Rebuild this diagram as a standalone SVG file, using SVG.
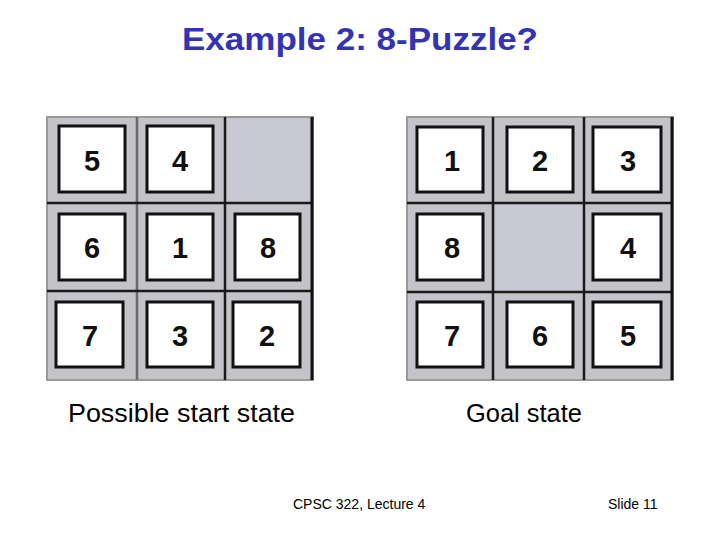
<svg xmlns="http://www.w3.org/2000/svg" width="720" height="540" viewBox="0 0 720 540">
<style>
.title{font-family:"Liberation Sans",Arial,sans-serif;font-weight:bold;font-size:32px;fill:#3333b3}
.frame{fill:#c3c3c8;stroke:#9a9a9a;stroke-width:2}
.empty{fill:#c9c9d3}
.edge{stroke:#111;stroke-width:3}
.line{stroke:#1a1a1a;stroke-width:2.5}
.tile rect{fill:#fff;stroke:#111;stroke-width:3}
.tile text{font-family:"Liberation Sans",Arial,sans-serif;font-weight:bold;font-size:29px;fill:#111;text-anchor:middle}
.label{font-family:"Liberation Sans",Arial,sans-serif;font-size:26px;fill:#000}
.foot{font-family:"Liberation Sans",Arial,sans-serif;font-size:14px;fill:#000}
</style>
<rect width="720" height="540" fill="#fff"/>
<text class="title" x="360" y="50" text-anchor="middle" textLength="356" lengthAdjust="spacingAndGlyphs">Example 2: 8-Puzzle?</text>

<g id="start-board">
  <rect class="frame" x="47" y="117" width="266" height="263"/>
  <rect class="empty" x="227" y="119" width="82" height="83"/>
  <line class="line" x1="137" y1="117" x2="137" y2="380" style="stroke:#6a6a6a"/>
  <line class="line" x1="225" y1="117" x2="225" y2="380"/>
  <line class="line" x1="47" y1="203" x2="313" y2="203"/>
  <line class="line" x1="47" y1="291" x2="313" y2="291"/>
  <line class="edge" x1="312" y1="117" x2="312" y2="380"/>
  <g id="s5" class="tile"><rect x="59" y="126" width="66" height="66"/><text x="92" y="171">5</text></g>
  <g id="s4" class="tile"><rect x="147" y="126" width="66" height="66"/><text x="180" y="171">4</text></g>
  <g id="s6" class="tile"><rect x="59" y="214" width="66" height="66"/><text x="92" y="258">6</text></g>
  <g id="s1" class="tile"><rect x="147" y="214" width="66" height="66"/><text x="180" y="258">1</text></g>
  <g id="s8" class="tile"><rect x="235" y="214" width="65" height="66"/><text x="268" y="258">8</text></g>
  <g id="s7" class="tile"><rect x="56" y="302" width="67" height="65"/><text x="90" y="346">7</text></g>
  <g id="s3" class="tile"><rect x="147" y="302" width="66" height="65"/><text x="180" y="346">3</text></g>
  <g id="s2" class="tile"><rect x="233" y="302" width="67" height="65"/><text x="267" y="346">2</text></g>
</g>

<g id="goal-board">
  <rect class="frame" x="407" y="117" width="266" height="263"/>
  <rect class="empty" x="495" y="205" width="88" height="86"/>
  <line class="line" x1="493" y1="117" x2="493" y2="380"/>
  <line class="line" x1="584" y1="117" x2="584" y2="380"/>
  <line class="line" x1="407" y1="203" x2="673" y2="203"/>
  <line class="line" x1="407" y1="292" x2="673" y2="292"/>
  <line class="edge" x1="672" y1="117" x2="672" y2="380"/>
  <g id="g1" class="tile"><rect x="417" y="127" width="66" height="65"/><text x="452" y="171">1</text></g>
  <g id="g2" class="tile"><rect x="507" y="127" width="66" height="65"/><text x="540" y="171">2</text></g>
  <g id="g3" class="tile"><rect x="593" y="127" width="68" height="65"/><text x="628" y="171">3</text></g>
  <g id="g8" class="tile"><rect x="417" y="214" width="66" height="66"/><text x="452" y="258">8</text></g>
  <g id="g4" class="tile"><rect x="593" y="214" width="68" height="66"/><text x="628" y="258">4</text></g>
  <g id="g7" class="tile"><rect x="417" y="302" width="66" height="65"/><text x="452" y="346">7</text></g>
  <g id="g6" class="tile"><rect x="507" y="302" width="66" height="65"/><text x="540" y="346">6</text></g>
  <g id="g5" class="tile"><rect x="593" y="302" width="68" height="65"/><text x="628" y="346">5</text></g>
</g>

<text class="label" x="68" y="422" textLength="227" lengthAdjust="spacingAndGlyphs">Possible start state</text>
<text class="label" x="466" y="422" textLength="116" lengthAdjust="spacingAndGlyphs">Goal state</text>

<text class="foot" x="293" y="509">CPSC 322, Lecture 4</text>
<text class="foot" x="608" y="509">Slide 11</text>
</svg>
